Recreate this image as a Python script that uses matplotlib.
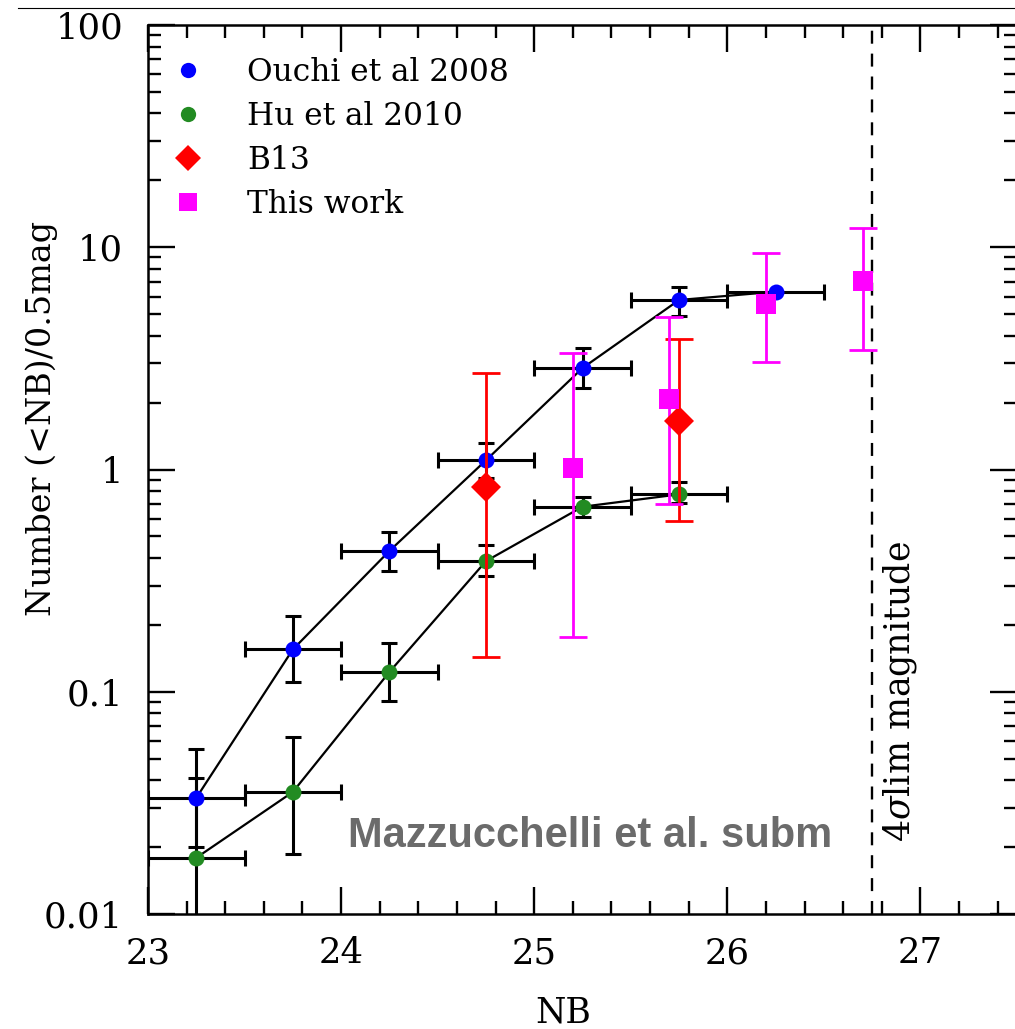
import numpy as np
import matplotlib
matplotlib.use("Agg")
import matplotlib.pyplot as plt
from matplotlib.lines import Line2D
from matplotlib.ticker import LogLocator, MultipleLocator, NullFormatter

plt.rcParams['font.family'] = ['DejaVu Serif']
plt.rcParams['mathtext.fontset'] = 'dejavuserif'

# Ouchi et al 2008
ouchi_nb = np.array([23.25, 23.75, 24.25, 24.75, 25.25, 25.75, 26.25])
ouchi_n = np.array([0.0333, 0.155, 0.43, 1.10, 2.86, 5.79, 6.31])
ouchi_lo = np.array([0.0200, 0.1106, 0.349, 0.916, 2.33, 4.91, np.nan])
ouchi_hi = np.array([0.0552, 0.219, 0.523, 1.316, 3.51, 6.65, np.nan])

# Hu et al 2010
hu_nb = np.array([23.25, 23.75, 24.25, 24.75, 25.25, 25.75])
hu_n = np.array([0.0179, 0.0354, 0.1227, 0.387, 0.68, 0.773])
hu_lo = np.array([0.005, 0.0186, 0.0908, 0.332, 0.61, 0.71])
hu_hi = np.array([0.041, 0.0626, 0.1657, 0.457, 0.755, 0.876])

bin_half = 0.25

# B13
b13_nb = np.array([24.75, 25.75])
b13_n = np.array([0.834, 1.66])
b13_lo = np.array([0.1435, 0.586])
b13_hi = np.array([2.72, 3.87])

# This work
this_nb = np.array([25.2, 25.7, 26.2, 26.7])
this_n = np.array([1.02, 2.08, 5.54, 7.05])
this_lo = np.array([0.176, 0.70, 3.05, 3.46])
this_hi = np.array([3.35, 4.84, 9.39, 12.25])

lim_mag = 26.75

fig = plt.figure(figsize=(10.15, 10.29), dpi=100)
ax = fig.add_axes([148 / 1015, 115 / 1029, 869 / 1015, 889 / 1029])

# connecting lines
ax.plot(ouchi_nb, ouchi_n, '-', color='black', lw=1.6, zorder=2)
ax.plot(hu_nb, hu_n, '-', color='black', lw=1.6, zorder=2)

eb = dict(fmt='none', ecolor='black', elinewidth=2.2, capsize=6, capthick=2.2, zorder=3)
ax.errorbar(ouchi_nb, ouchi_n, xerr=bin_half,
            yerr=[ouchi_n - ouchi_lo, ouchi_hi - ouchi_n], **eb)
ax.errorbar(hu_nb, hu_n, xerr=bin_half,
            yerr=[hu_n - hu_lo, hu_hi - hu_n], **eb)
ax.plot(ouchi_nb, ouchi_n, 'o', color='#0000ff', ms=11.5, mew=0, zorder=4)
ax.plot(hu_nb, hu_n, 'o', color='#228b22', ms=11.5, mew=0, zorder=4)

ax.errorbar(b13_nb, b13_n, yerr=[b13_n - b13_lo, b13_hi - b13_n], fmt='none',
            ecolor='#ff0000', elinewidth=2, capsize=10, capthick=2, zorder=5)
ax.plot(b13_nb, b13_n, 'D', color='#ff0000', ms=15, mew=0, zorder=6)

ax.errorbar(this_nb, this_n, yerr=[this_n - this_lo, this_hi - this_n], fmt='none',
            ecolor='#ff00ff', elinewidth=2, capsize=10, capthick=2, zorder=5)
ax.plot(this_nb, this_n, 's', color='#ff00ff', ms=14.4, mew=0, zorder=6)

ax.axvline(lim_mag, color='black', lw=1.7, ls=(0, (5.5, 4.2)), zorder=1)

ax.set_yscale('log')
ax.set_xlim(23, 27.5)
ax.set_ylim(0.01, 100)

ax.xaxis.set_major_locator(MultipleLocator(1))
ax.xaxis.set_minor_locator(MultipleLocator(0.2))
ax.set_yticks([0.01, 0.1, 1, 10, 100])
ax.set_yticklabels(['0.01', '0.1', '1', '10', '100'])
ax.yaxis.set_minor_locator(LogLocator(base=10, subs=np.arange(2, 10)))
ax.yaxis.set_minor_formatter(NullFormatter())

ax.tick_params(which='both', direction='in', top=True, right=True, width=1.7, colors='black')
ax.tick_params(which='major', length=19.5, labelsize=25.5)
ax.tick_params(which='minor', length=9.5)
ax.tick_params(axis='x', which='major', pad=16)
ax.tick_params(axis='y', which='major', pad=18)
for s in ax.spines.values():
    s.set_linewidth(1.8)

ax.set_xlabel('NB', fontsize=25)
ax.xaxis.set_label_coords(0.4776, -0.0922)
ax.set_ylabel('Number (<NB)/0.5mag', fontsize=24)
ax.yaxis.set_label_coords(-0.1036, 0.558)

ax.text(26.896, 0.0998, r'4$\sigma$lim magnitude', rotation=90, ha='center',
        va='center', fontsize=25)
ax.text(24.036, 0.02, 'Mazzucchelli et al. subm', family='Liberation Sans',
        fontweight='bold', fontsize=30, color='#6b6b6b', ha='left', va='baseline')

handles = [
    Line2D([], [], ls='none', marker='o', color='#0000ff', ms=11, mew=0),
    Line2D([], [], ls='none', marker='o', color='#228b22', ms=11, mew=0),
    Line2D([], [], ls='none', marker='D', color='#ff0000', ms=13, mew=0),
    Line2D([], [], ls='none', marker='s', color='#ff00ff', ms=13, mew=0),
]
labels = ['Ouchi et al 2008', 'Hu et al 2010', 'B13', 'This work']
ax.legend(handles, labels, loc='upper left', bbox_to_anchor=(0.0104, 0.9644),
          frameon=False, fontsize=22.5, borderaxespad=0, borderpad=0,
          handlelength=2, handletextpad=0.89, labelspacing=0.42, numpoints=1)

fig.add_artist(Line2D([18 / 1015, 1], [1 - 8 / 1029, 1 - 8 / 1029],
                      color='black', lw=0.8, transform=fig.transFigure))

fig.savefig('out.png', dpi=100)
